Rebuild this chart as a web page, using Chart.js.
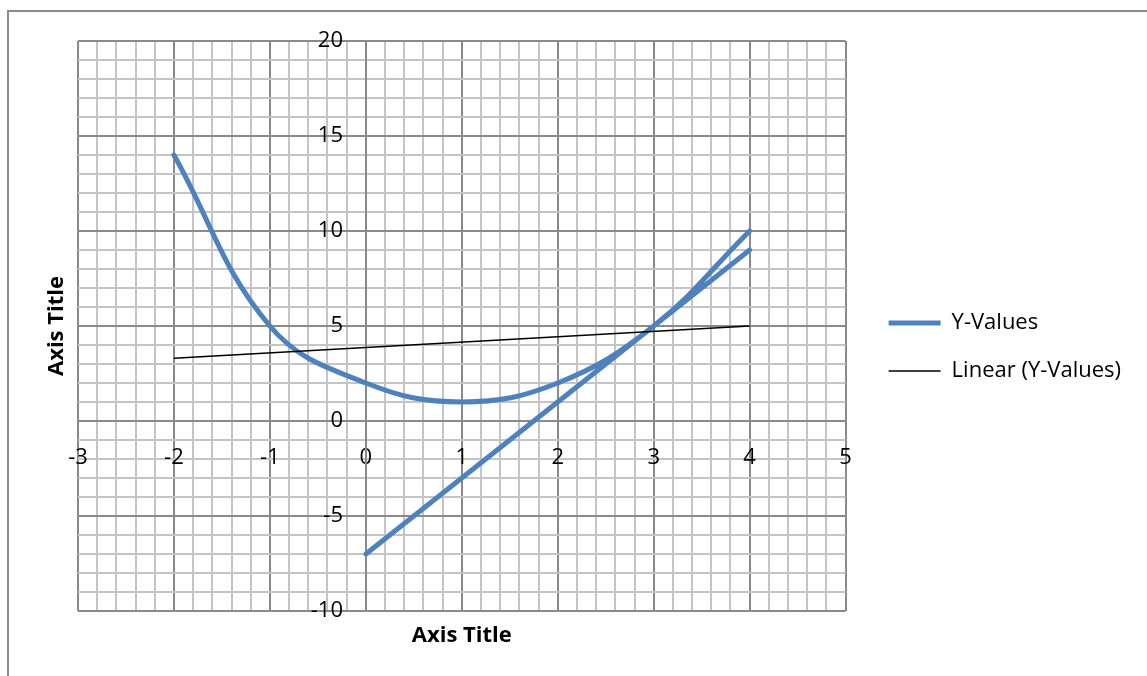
<!DOCTYPE html>
<html>
<head>
<meta charset="utf-8">
<script src="https://cdn.jsdelivr.net/npm/chart.js@4.4.1/dist/chart.umd.min.js"></script>
<style>
  html, body { margin: 0; padding: 0; background: #fff; overflow: hidden; }
  #wrap { position: relative; width: 1147px; height: 676px; overflow: hidden; }
  #frame { position: absolute; left: 7px; top: 10px; width: 1200px; height: 700px; border: 2px solid #8c8c8c; }
  #chart { position: absolute; left: 0; top: 0; }
</style>
</head>
<body>
<div id="wrap">
  <div id="frame"></div>
  <canvas id="chart" width="1147" height="676"></canvas>
</div>
<script>
// ========== DATA ========== //
const seriesX = [-2, -1, 0, 1, 2, 3, 4, null, 0, 4];
const seriesY = [14, 5, 2, 1, 2, 5, 10, null, -7, 9];
const trendX = [-2, 4];
const trendY = [3.3, 5.0];
const xTickLabels = [-3, -2, -1, 0, 1, 2, 3, 4, 5];
const yTickLabels = [-10, -5, 0, 5, 10, 15, 20];
const seriesName = "Y-Values";
const trendName = "Linear (Y-Values)";
const xTitle = "Axis Title";
const yTitle = "Axis Title";

// ========== STYLE ========== //
const FONT = "'Open Sans', 'Noto Sans', sans-serif";
const MAJOR = "#8a8a8a";
const MINOR = "#c4c4c4";
const BLUE = "#4f81bd";

function isMajor(v, list) {
  return list.some(t => Math.abs(t - v) < 1e-6);
}

function labelFor(v, list) {
  let t = list.find(t => Math.abs(t - v) < 1e-6);
  return t === undefined ? "" : String(t);
}

// hidden helper axis, only used to hold a title or a gap
function spacer(position, size, title, pad) {
  return {
    type: "linear",
    position: position,
    min: 0, max: 1,
    grid: { display: false },
    border: { display: false },
    ticks: { display: false },
    title: {
      display: !!title,
      text: title || "",
      color: "#000",
      font: { family: FONT, size: 22, weight: "bold" },
      padding: pad || 0
    },
    afterFit: s => {
      if (s.isHorizontal()) s.height = size;
      else s.width = size;
    }
  };
}

const seriesPts = seriesX.map((x, i) => ({ x: x, y: seriesY[i] }));
const trendPts = trendX.map((x, i) => ({ x: x, y: trendY[i] }));

new Chart(document.getElementById("chart"), {
  type: "scatter",
  data: {
    datasets: [{
      label: seriesName,
      data: seriesPts,
      showLine: true,
      tension: 0.4,
      borderColor: BLUE,
      backgroundColor: BLUE,
      borderWidth: 5,
      borderCapStyle: "round",
      pointRadius: 0,
      pointHoverRadius: 0,
      xAxisID: "x",
      yAxisID: "y",
      order: 1
    }, {
      label: trendName,
      data: trendPts,
      showLine: true,
      borderColor: "#000",
      backgroundColor: "#000",
      borderWidth: 1.5,
      pointRadius: 0,
      pointHoverRadius: 0,
      xAxisID: "x",
      yAxisID: "y",
      order: 0
    }]
  },
  options: {
    responsive: false,
    animation: false,
    devicePixelRatio: 1,
    layout: { padding: { top: 41, bottom: 23, left: 0, right: 16 } },
    scales: {
      x: {
        type: "linear",
        position: { y: 0 },
        min: -3, max: 5,
        ticks: {
          stepSize: 0.2,
          autoSkip: false,
          maxRotation: 0,
          padding: 24,
          color: "#000",
          font: { family: FONT, size: 22 },
          callback: v => labelFor(v, xTickLabels)
        },
        grid: {
          drawTicks: false,
          color: c => isMajor(c.tick.value, xTickLabels) ? MAJOR : MINOR,
          lineWidth: 2
        },
        border: { color: MAJOR, width: 2 }
      },
      y: {
        type: "linear",
        position: { x: 0 },
        min: -10, max: 20,
        ticks: {
          stepSize: 1,
          autoSkip: false,
          color: "#000",
          font: { family: FONT, size: 22 },
          // labels sit right against an axis placed at a value, so pad them with spaces
          callback: v => {
            let s = labelFor(v, yTickLabels);
            return s ? s + "    " : "";
          }
        },
        grid: {
          drawTicks: false,
          color: c => isMajor(c.tick.value, yTickLabels) ? MAJOR : MINOR,
          lineWidth: 2
        },
        border: { color: MAJOR, width: 2 }
      },
      xt: spacer("bottom", 42, xTitle, { top: 0, bottom: 4 }),
      yt: spacer("left", 78, yTitle, { top: 44, bottom: 0 }),
      gap: spacer("right", 17)
    },
    plugins: {
      tooltip: { enabled: false },
      legend: {
        position: "right",
        align: "center",
        maxWidth: 280,
        labels: {
          usePointStyle: true,
          pointStyle: "line",
          pointStyleWidth: 52,
          padding: 26,
          color: "#000",
          font: { family: FONT, size: 22 },
          sort: (a, b) => a.datasetIndex - b.datasetIndex
        }
      }
    }
  }
});
</script>
</body>
</html>
